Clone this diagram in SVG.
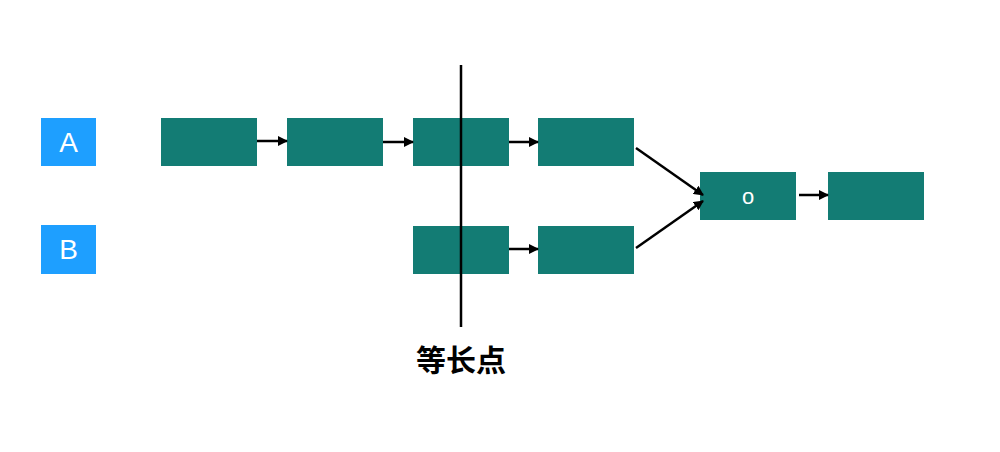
<svg xmlns="http://www.w3.org/2000/svg" width="1000" height="452" viewBox="0 0 1000 452">
<style>
.lab{fill:#1E9FFF}
.n{fill:#137C74}
.t{font-family:"Liberation Sans","Noto Sans CJK SC",sans-serif;fill:#fff;text-anchor:middle}
.c{stroke:#000;stroke-width:2.5;fill:none;marker-end:url(#ah)}
</style>
<defs><marker id="ah" markerWidth="10" markerHeight="10" refX="9" refY="5" orient="auto" markerUnits="userSpaceOnUse"><path d="M0,0L10,5L0,10z" fill="#000"/></marker></defs>
<rect width="1000" height="452" fill="#fff"/>
<g id="A"><rect class="lab" x="41" y="118" width="55" height="48"/><text class="t" x="68.5" y="152" font-size="28">A</text></g>
<g id="B"><rect class="lab" x="41" y="225" width="55" height="49"/><text class="t" x="68.5" y="259" font-size="28">B</text></g>
<g id="a1"><rect class="n" x="161" y="118" width="96" height="48"/></g>
<g id="a2"><rect class="n" x="287" y="118" width="96" height="48"/></g>
<g id="a3"><rect class="n" x="413" y="118" width="96" height="48"/></g>
<g id="a4"><rect class="n" x="538" y="118" width="96" height="48"/></g>
<g id="b1"><rect class="n" x="413" y="226" width="96" height="48"/></g>
<g id="b2"><rect class="n" x="538" y="226" width="96" height="48"/></g>
<g id="o"><rect class="n" x="700" y="172" width="96" height="48"/><text class="t" x="748" y="204" font-size="22">o</text></g>
<g id="e"><rect class="n" x="828" y="172" width="96" height="48"/></g>
<g id="connectors">
<line class="c" x1="257" y1="141" x2="287" y2="141"/>
<line class="c" x1="383" y1="142" x2="413" y2="142"/>
<line class="c" x1="509" y1="142" x2="538" y2="142"/>
<line class="c" x1="509" y1="249" x2="538" y2="249"/>
<line class="c" x1="636" y1="148" x2="703" y2="195"/>
<line class="c" x1="636" y1="248" x2="703" y2="201"/>
<line class="c" x1="799" y1="195" x2="828" y2="195"/>
</g>
<g id="split"><line x1="461" y1="65" x2="461" y2="327" stroke="#000" stroke-width="2.5"/>
<text x="461" y="371" font-family="'Noto Sans CJK SC',sans-serif" font-weight="bold" font-size="30" text-anchor="middle">等长点</text></g>
</svg>
